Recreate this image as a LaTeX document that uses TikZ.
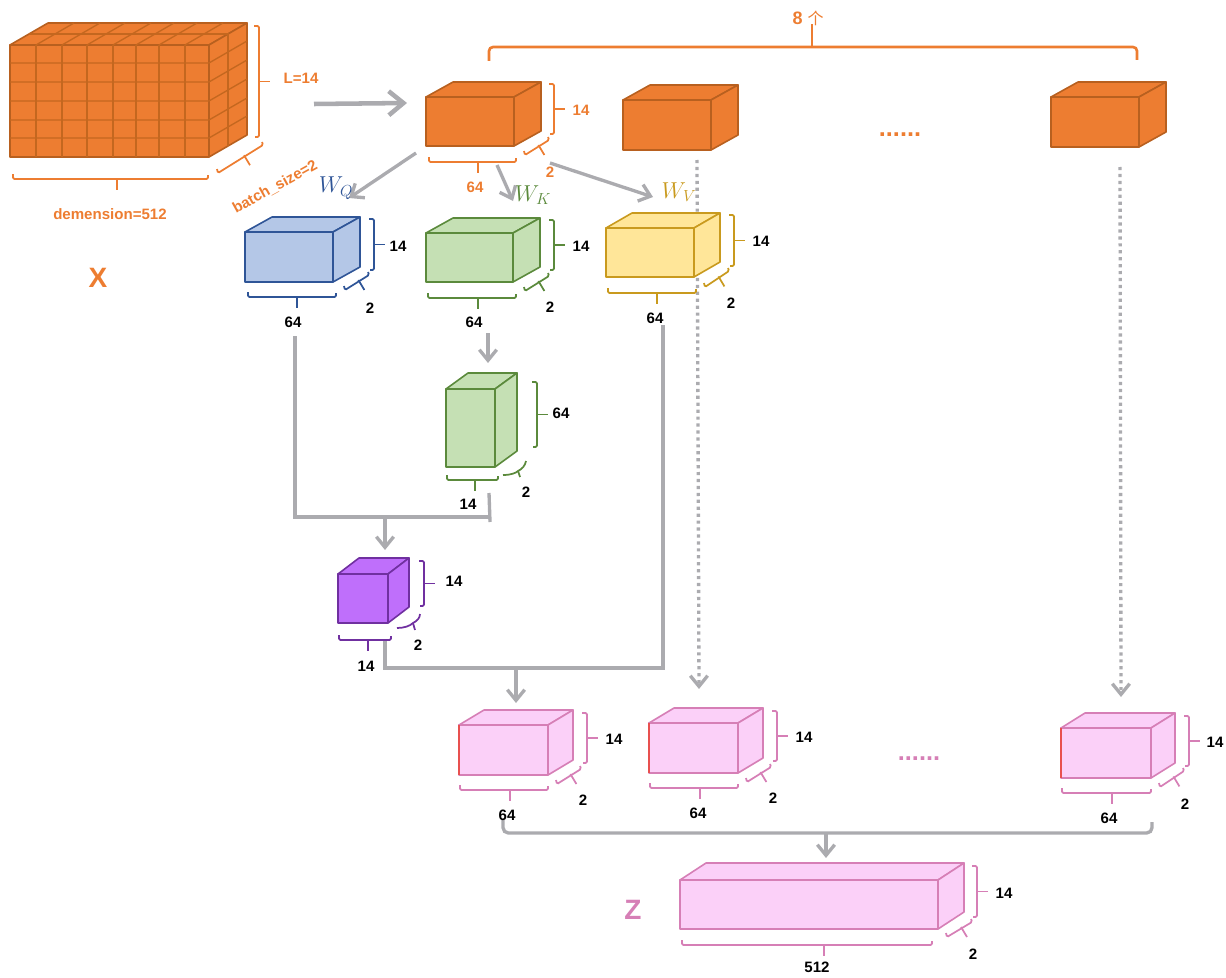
\documentclass[tikz,border=0pt]{standalone}
\usepackage{fontspec}
\setmainfont{Liberation Sans}
\newfontfamily\cjkfont{Noto Sans CJK SC}
\usetikzlibrary{arrows.meta,calc}
\definecolor{orangeFill}{HTML}{ED7D31}
\definecolor{orangeEdge}{HTML}{B8601F}
\definecolor{orangeGrid}{HTML}{C4671F}
\definecolor{orangeLine}{HTML}{ED7D31}
\definecolor{blueFill}{HTML}{B4C7E7}
\definecolor{blueEdge}{HTML}{2F5597}
\definecolor{greenFill}{HTML}{C5E0B4}
\definecolor{greenEdge}{HTML}{5B8A3C}
\definecolor{yellowFill}{HTML}{FFE699}
\definecolor{yellowEdge}{HTML}{C99A1E}
\definecolor{purpleFill}{HTML}{BF6FFB}
\definecolor{purpleEdge}{HTML}{7030A0}
\definecolor{pinkFill}{HTML}{FBD0F8}
\definecolor{pinkEdge}{HTML}{D67FB6}
\definecolor{flowGray}{HTML}{ABABAF}
\definecolor{edgeRed}{HTML}{E8504F}
\tikzset{
  face/.style={fill=#1Fill, draw=#1Edge, line width=1.2pt, line join=round, inner sep=0pt, outer sep=0pt},
  dimline/.style={line width=1.3pt, rounded corners=1pt},
  dimtick/.style={line width=1.3pt},
  gridline/.style={draw=orangeGrid, line width=1pt},
  dimlabel/.style={font=\fontsize{11.3}{13}\bfseries\selectfont, inner sep=0pt},
  flow/.style={draw=flowGray, line width=2.5pt},
  flowhead/.style={flow, -{Straight Barb[length=8pt,width=13pt]}},
  dotflow/.style={flowhead, dash pattern=on 2.4pt off 2.8pt},
  bigtext/.style={font=\fontsize{21}{24}\bfseries\selectfont, inner sep=0pt},
  weight/.style={font=\fontsize{16}{18}\selectfont, inner sep=0pt},
  dots/.style={font=\fontsize{19}{22}\bfseries\selectfont, inner sep=0pt, anchor=base},
}
% name, colour, x, y, width, height, depth x, depth y
\newcommand{\cuboid}[8]{
  \node[face=#2, minimum width=#5*.75pt, minimum height=#6*.75pt, anchor=north west] (#1) at (#3,#4) {};
  \draw[face=#2] (#1.north west) -- ++(#7,#8) -- ++(#5,0) -- (#1.north east) -- cycle;
  \draw[face=#2] (#1.north east) -- ++(#7,#8) -- ++(0,#6) -- (#1.south east) -- cycle;
}
\newcommand{\subsc}[1]{_{\mbox{\fontsize{13}{13}\selectfont$#1$}}}
\begin{document}
\begin{tikzpicture}[x=.75pt,y=-.75pt]
  \useasboundingbox (0,0) rectangle (1226,977);
  \foreach \n/\x/\y in {xOut/314/104, orangeIn/407/103, qStart/416/153, qEnd/349/198, kStart/497/165, kEnd/513/201,
      vStart/550/163, vEnd/653/197, blueOut/295/336, mergeR/490/517, greenTop/489/493, greenEnd/490/522, mergeAt/385/517,
      purpleIn/385/550, greenA/488/333, greenB/488/363, purpleOut/385/640, purpleCorner/385/668, yellowOut/663/325,
      yellowCorner/663/668, dropAt/516/668, dropEnd/516/703, dotA/697/160, dotB/699/689, dotC/1120/167, dotD/1121/697,
      pinkL/503/820, pinkLc/503/833, pinkRc/1152/833, pinkR/1152/822, zAt/826/833, zEnd/826/858} {
    \coordinate (\n) at (\x,\y);
  }
  % connectors go first, the boxes cover them
  \draw[flowhead, line width=3.4pt, -{Straight Barb[length=11pt,width=18pt]}] (xOut) -- (orangeIn);
  \draw[flowhead] (qStart) -- (qEnd);
  \draw[flowhead] (kStart) -- (kEnd);
  \draw[flowhead] (vStart) -- (vEnd);
  \draw[dotflow] (dotA) -- (dotB);
  \draw[dotflow] (dotC) -- (dotD);
  \draw[flowhead] (greenA) -- (greenB);
  \draw[flow] (blueOut) |- (mergeR);
  \draw[flow] (greenTop) -- (greenEnd);
  \draw[flowhead] (mergeAt) -- (purpleIn);
  \draw[flow] (purpleOut) -- (purpleCorner) -- (yellowCorner) -- (yellowOut);
  \draw[flowhead] (dropAt) -- (dropEnd);
  \draw[flow, rounded corners=4pt] (pinkL) -- (pinkLc) -- (pinkRc) -- (pinkR);
  \draw[flowhead] (zAt) -- (zEnd);

  % block X
  \cuboid{boxX}{orange}{10}{45}{199}{112}{38}{-22}
  \foreach \x in {36,62,87,113,136,159,185} {
    \draw[gridline] (\x,45) -- (\x,157);
    \draw[gridline] (\x,45) -- ++(38,-22);
  }
  \foreach \y in {63,82,101,120,138} {
    \draw[gridline] (10,\y) -- (209,\y) -- ++(38,-22);
  }
  \draw[gridline] (29,34) -- (228,34) -- (228,146);

  \cuboid{boxOrangeA}{orange}{426}{97}{88}{49}{27}{-15}
  \cuboid{boxOrangeB}{orange}{623}{100}{88}{50}{27}{-15}
  \cuboid{boxOrangeC}{orange}{1051}{97}{88}{50}{27}{-15}
  \cuboid{boxBlue}{blue}{245}{232}{88}{50}{27}{-15}
  \cuboid{boxGreen}{green}{426}{233}{87}{49}{27}{-15}
  \cuboid{boxYellow}{yellow}{606}{228}{88}{49}{26}{-15}
  \cuboid{boxTall}{green}{446}{389}{49}{78}{22}{-16}
  \cuboid{boxPurple}{purple}{338}{574}{50}{49}{21}{-16}
  \cuboid{boxPinkA}{pink}{459}{725}{89}{50}{25}{-15}
  \cuboid{boxPinkB}{pink}{649}{723}{89}{50}{25}{-15}
  \cuboid{boxPinkC}{pink}{1061}{728}{90}{50}{24}{-15}
  \cuboid{boxZ}{pink}{680}{880}{258}{49}{26}{-17}
  \draw[edgeRed, line width=2pt] (boxPinkA.north west) -- (boxPinkA.south west);
  \draw[edgeRed, line width=2pt] (boxPinkB.north west) -- (boxPinkB.south west);
  \draw[edgeRed, line width=2pt] (boxPinkC.north west) -- (boxPinkC.south west);

  % side brackets
  \foreach \c/\x/\ya/\yb in {orangeLine/259/26/137, orangeLine/554/84/134, blueEdge/374/219/270, greenEdge/554/220/270,
      yellowEdge/734/215/266, greenEdge/537/382/447, purpleEdge/424/561/606, pinkEdge/587/713/763, pinkEdge/777/711/761,
      pinkEdge/1189/716/766, pinkEdge/977/866/917} {
    \draw[dimline, draw=\c] (\x-5,\ya) -- (\x,\ya) -- (\x,\yb) -- (\x-4,\yb);
    \draw[dimtick, draw=\c] (\x-1,{(\ya+\yb)/2}) -- ++(12,0);
  }
  % base brackets
  \foreach \c/\y/\xa/\xb/\xm in {orangeLine/179/13/208/117, orangeLine/162/429/516/478, blueEdge/297/248/336/297,
      greenEdge/298/428/516/478, yellowEdge/293/608/696/657, greenEdge/480/447/498/475, purpleEdge/640/339/391/368,
      pinkEdge/790/460/548/510, pinkEdge/788/650/738/700, pinkEdge/793/1062/1151/1112, pinkEdge/945/682/932/824} {
    \draw[dimline, draw=\c] (\xa,\y-5) -- (\xa,\y) -- (\xb,\y) -- (\xb,\y-4);
    \draw[dimtick, draw=\c] (\xm,\y) -- ++(0,11);
  }
  % depth brackets
  \foreach \c/\xa/\ya/\xb/\yb in {orangeLine/218/173/263/145, orangeLine/525/155/549/140, blueEdge/345/290/369/275,
      greenEdge/525/291/549/276, yellowEdge/705/287/729/271, pinkEdge/557/784/581/769, pinkEdge/747/782/771/767,
      pinkEdge/1160/787/1184/771, pinkEdge/947/937/972/922} {
    \draw[dimline, draw=\c] (\xa-1,\ya-4) -- (\xa,\ya) -- (\xb,\yb) -- (\xb-1,\yb-3);
    \draw[dimtick, draw=\c] ($(\xa,\ya)!.6!(\xb,\yb)+(-1,-1)$) -- ++(6,10);
  }
  \draw[dimtick, draw=greenEdge] (503,475) .. controls (511,475) and (516,473) .. (518,471) .. controls (522,469) and (525,466) .. (526,461);
  \draw[dimtick, draw=greenEdge] (518,471) -- (520,477);
  \draw[dimtick, draw=purpleEdge] (397,628) .. controls (404,628) and (410,626) .. (413,623) .. controls (417,621) and (420,618) .. (420,614);
  \draw[dimtick, draw=purpleEdge] (413,623) -- (415,630);
  % top bracket over the eight heads
  \draw[orangeLine, line width=2pt, rounded corners=3pt] (489,61) -- (489,47) -- (1137,47) -- (1137,60);
  \draw[orangeLine, line width=2pt] (812,47) -- (812,24);

  \foreach \n/\x/\y/\t/\c in {orangeH/581/110/14/orangeLine, orangeW/475/187/64/orangeLine, orangeD/550/172/2/orangeLine,
      blueH/398/246/14/black, blueW/293/322/64/black, blueD/370/308/2/black,
      greenH/581/246/14/black, greenW/474/322/64/black, greenD/550/307/2/black,
      yellowH/761/241/14/black, yellowW/655/318/64/black, yellowD/731/303/2/black,
      tallH/561/413/64/black, tallW/468/504/14/black, tallD/526/492/2/black,
      purpleH/454/581/14/black, purpleW/366/666/14/black, purpleD/418/645/2/black,
      pinkAH/614/739/14/black, pinkAW/507/815/64/black, pinkAD/583/800/2/black,
      pinkBH/804/737/14/black, pinkBW/698/813/64/black, pinkBD/773/798/2/black,
      pinkCH/1215/742/14/black, pinkCW/1109/818/64/black, pinkCD/1185/804/2/black,
      zH/1004/893/14/black, zW/817/967/512/black, zD/973/954/2/black} {
    \node[dimlabel, text=\c] (\n) at (\x,\y) {\t};
  }
  \node[dimlabel, text=orangeLine] (lenLabel) at (301,78) {L=14};
  \node[dimlabel, text=orangeLine] (dimLabel) at (110,214) {demension=512};
  \node[dimlabel, text=orangeLine, rotate=29] (batchLabel) at (275,187) {batch\_size=2};
  \node[bigtext, text=orangeLine] (nameX) at (98,278) {X};
  \node[bigtext, text=pinkEdge] (nameZ) at (633,910) {Z};
  \node[weight, text=blueEdge] (wq) at (336,188) {$W\subsc{Q}$};
  \node[weight, text=greenEdge] (wk) at (533,195) {$W\subsc{K}$};
  \node[weight, text=yellowEdge] (wv) at (679,192) {$W\subsc{V}$};
  \node[font=\fontsize{13.5}{16}\bfseries\selectfont, text=orangeLine, inner sep=0pt] (headCount) at (808,18) {8 {\mdseries\fontsize{12}{14}\selectfont\cjkfont 个}};
  \node[dots, text=orangeLine] (dotsTop) at (900,137) {......};
  \node[dots, text=pinkEdge] (dotsPink) at (919,760) {......};
\end{tikzpicture}
\end{document}
